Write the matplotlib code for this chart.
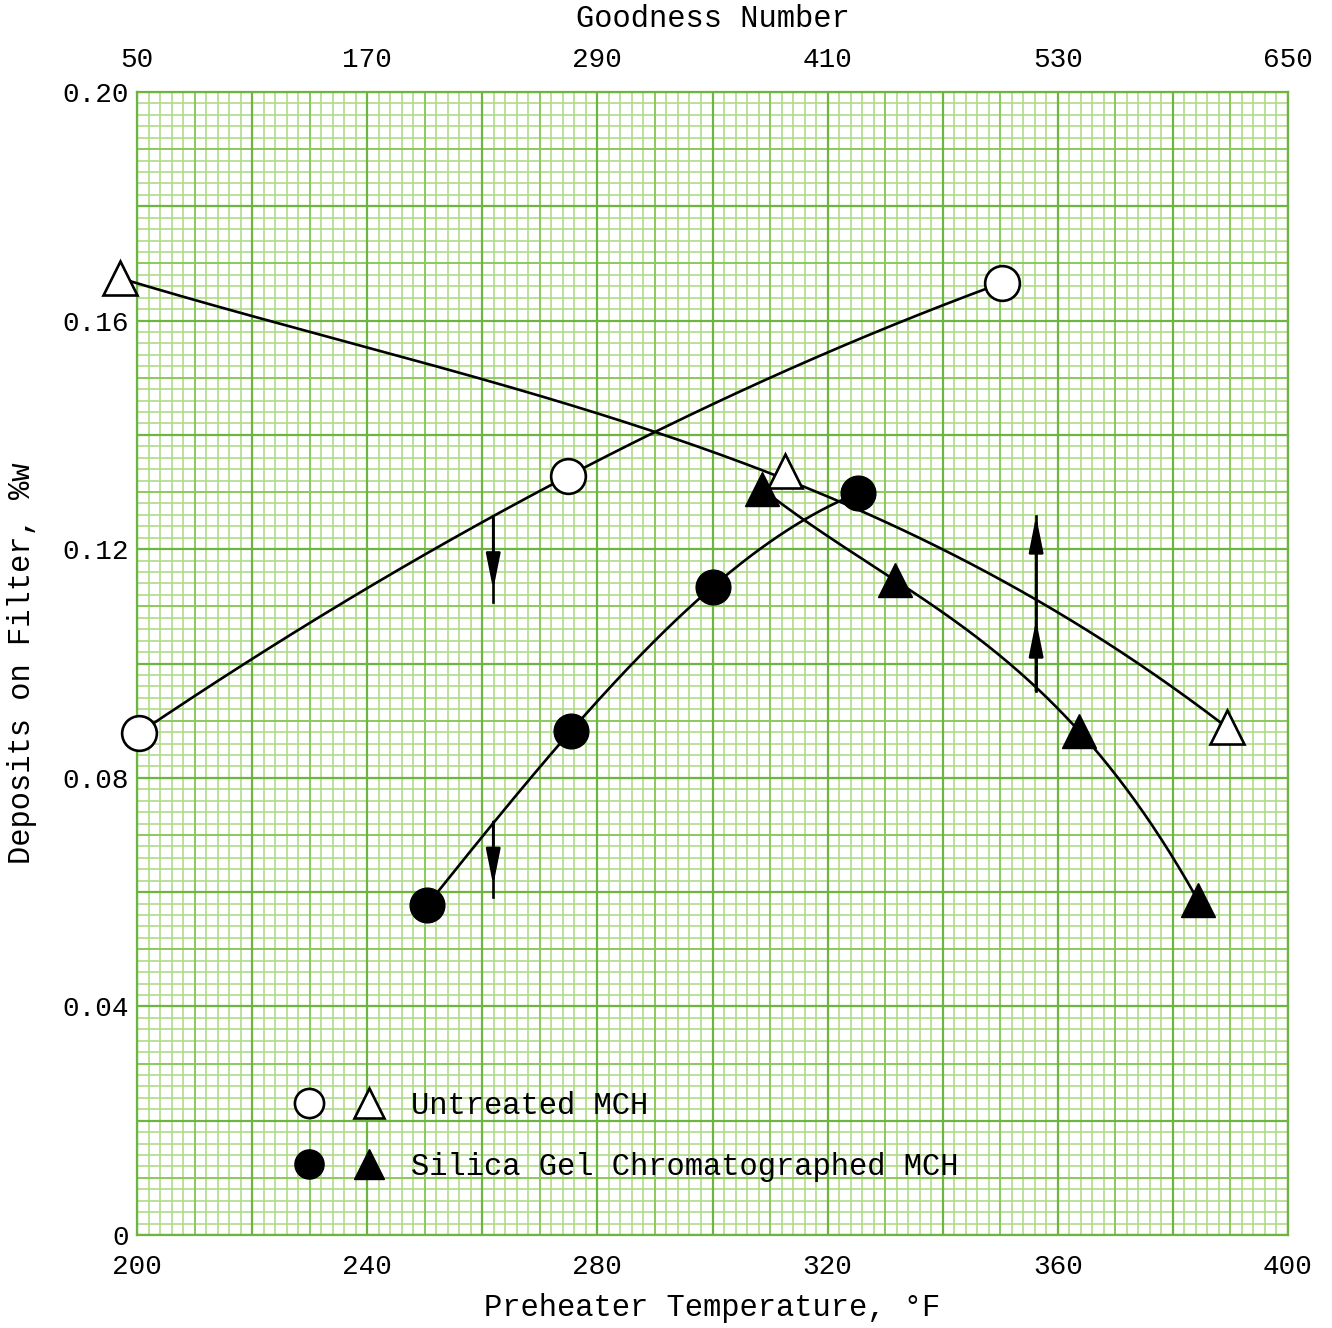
import numpy as np
import matplotlib
matplotlib.use("Agg")
import matplotlib.pyplot as plt
from matplotlib.lines import Line2D
from matplotlib.legend_handler import HandlerTuple

# ---------------- data ----------------
temp_ticks = [200, 240, 280, 320, 360, 400]
goodness_ticks = [50, 170, 290, 410, 530, 650]
deposit_ticks = [0, 0.04, 0.08, 0.12, 0.16, 0.20]
deposit_tick_labels = ["0", "0.04", "0.08", "0.12", "0.16", "0.20"]

# Untreated MCH (open circles) vs preheater temperature
untreated_temp = [200.3, 274.9, 350.3]
untreated_temp_dep = [0.0878, 0.1328, 0.1666]

# Silica gel chromatographed MCH (filled circles) vs preheater temperature
silica_temp = [250.4, 275.4, 300.0, 325.3]
silica_temp_dep = [0.0577, 0.0882, 0.1134, 0.1298]

# Untreated MCH (open triangles) vs goodness number
untreated_gn = [41, 388, 618]
untreated_gn_dep = [0.1675, 0.1337, 0.0889]
# hand-drawn curve through the open triangles
untreated_gn_curve_x = [50, 123, 171.5, 230.4, 289.8, 317.5, 386.8, 518.7, 567.7, 585, 612]
untreated_gn_curve_y = [0.1662, 0.1598, 0.1557, 0.1500, 0.1435, 0.1405, 0.1316,
                        0.1120, 0.1015, 0.0971, 0.0896]

# Silica gel chromatographed MCH (filled triangles) vs goodness number
silica_gn = [376, 445, 541, 603]
silica_gn_dep = [0.1305, 0.1146, 0.0882, 0.0586]

# arrows (temperature axis, pointing down)
down_arrow_temp = [261.9, 261.9]
down_arrow_start = [0.1255, 0.0723]
down_arrow_tip = [0.1129, 0.0612]
down_arrow_end = [0.1108, 0.0591]
# arrows (goodness axis, pointing up)
up_arrow_gn = 518.7
up_arrow_start = 0.0952
up_arrow_tips = [0.1076, 0.1258]

legend_labels = ["Untreated MCH", "Silica Gel Chromatographed MCH"]

# ---------------- style ----------------
plt.rcParams["font.family"] = ["Liberation Mono", "DejaVu Sans Mono"]
FS_TICK = 20
FS_LAB = 22
LW = 1.9
MS = 25

fig = plt.figure(figsize=(13.32, 13.28), dpi=100)
ax = fig.add_axes([137 / 1332, 1 - 1235 / 1328, (1288 - 137) / 1332, (1235 - 92) / 1328])
ax.set_xlim(200, 400)
ax.set_ylim(0, 0.20)

# graph-paper grid
light, mid, heavy = "#b0dc8a", "#8ccb60", "#6db540"
xt = ax.get_xaxis_transform()
yt = ax.get_yaxis_transform()
ax.vlines(np.arange(200, 401, 2), 0, 1, transform=xt, colors=light, lw=1.2, zorder=0)
ax.hlines(np.arange(0, 0.2001, 0.002), 0, 1, transform=yt, colors=light, lw=1.2, zorder=0)
ax.vlines(np.arange(200, 401, 10), 0, 1, transform=xt, colors=mid, lw=1.4, zorder=0.1)
ax.hlines(np.arange(0, 0.2001, 0.01), 0, 1, transform=yt, colors=mid, lw=1.4, zorder=0.1)
ax.vlines(np.arange(200, 401, 20), 0, 1, transform=xt, colors=heavy, lw=1.6, zorder=0.2)
ax.hlines(np.arange(0, 0.2001, 0.02), 0, 1, transform=yt, colors=heavy, lw=1.6, zorder=0.2)
for s in ax.spines.values():
    s.set_color(heavy)
    s.set_linewidth(1.6)

ax.set_xticks(temp_ticks)
ax.set_xticklabels([str(t) for t in temp_ticks])
ax.set_yticks(deposit_ticks)
ax.set_yticklabels(deposit_tick_labels)
ax.tick_params(axis="both", length=0, labelsize=FS_TICK)
ax.tick_params(axis="x", pad=14)
ax.tick_params(axis="y", pad=6)
ax.set_xlabel("Preheater Temperature, °F", fontsize=FS_LAB, labelpad=9)
ax.set_ylabel("Deposits on Filter, %w", fontsize=FS_LAB, labelpad=18)

# temperature-based series
t = np.linspace(min(untreated_temp), max(untreated_temp), 200)
ax.plot(t, np.polyval(np.polyfit(untreated_temp, untreated_temp_dep, 2), t), color="black", lw=LW, zorder=3)
t = np.linspace(min(silica_temp), max(silica_temp), 200)
ax.plot(t, np.polyval(np.polyfit(silica_temp, silica_temp_dep, 3), t), color="black", lw=LW, zorder=3)
ax.plot(untreated_temp, untreated_temp_dep, ls="none", marker="o", ms=MS, mfc="white",
        mec="black", mew=LW, zorder=4, clip_on=False)
ax.plot(silica_temp, silica_temp_dep, ls="none", marker="o", ms=MS, mfc="black",
        mec="black", zorder=4, clip_on=False)

for x, y0, yt_, y1 in zip(down_arrow_temp, down_arrow_start, down_arrow_tip, down_arrow_end):
    ax.plot([x, x], [y0, y1], color="black", lw=LW, zorder=3)
    ax.annotate("", xy=(x, yt_), xytext=(x, y0),
                arrowprops=dict(arrowstyle="-|>,head_length=1.1,head_width=0.22",
                                color="black", lw=LW, shrinkA=0, shrinkB=0,
                                mutation_scale=20), zorder=3)

# goodness-based series on top axis
ax2 = ax.twiny()
ax2.set_xlim(50, 650)
ax2.set_ylim(0, 0.20)
ax2.set_xticks(goodness_ticks)
ax2.set_xticklabels([str(g) for g in goodness_ticks])
ax2.tick_params(axis="x", length=0, labelsize=FS_TICK, pad=14)
ax2.set_xlabel("Goodness Number", fontsize=FS_LAB, labelpad=14)
for s in ax2.spines.values():
    s.set_visible(False)

g = np.linspace(min(untreated_gn), max(untreated_gn), 200)
ax2.plot(g, np.polyval(np.polyfit(untreated_gn_curve_x, untreated_gn_curve_y, 3), g),
         color="black", lw=LW, zorder=3, clip_on=False)
g = np.linspace(min(silica_gn), max(silica_gn), 200)
ax2.plot(g, np.polyval(np.polyfit(silica_gn, silica_gn_dep, 3), g), color="black", lw=LW, zorder=3)
ax2.plot(untreated_gn, untreated_gn_dep, ls="none", marker="^", ms=MS, mfc="white",
         mec="black", mew=LW, zorder=4, clip_on=False)
ax2.plot(silica_gn, silica_gn_dep, ls="none", marker="^", ms=MS, mfc="black",
         mec="black", zorder=4, clip_on=False)

ax2.plot([up_arrow_gn, up_arrow_gn], [up_arrow_start, max(up_arrow_tips)], color="black", lw=LW, zorder=3)
for tip in up_arrow_tips:
    ax2.annotate("", xy=(up_arrow_gn, tip), xytext=(up_arrow_gn, up_arrow_start),
                 arrowprops=dict(arrowstyle="-|>,head_length=1.1,head_width=0.22",
                                 color="black", lw=LW, shrinkA=0, shrinkB=0,
                                 mutation_scale=20), zorder=3)

# legend
lms = 21
h_oc = Line2D([], [], ls="none", marker="o", ms=lms, mfc="white", mec="black", mew=LW)
h_ot = Line2D([], [], ls="none", marker="^", ms=lms, mfc="white", mec="black", mew=LW)
h_fc = Line2D([], [], ls="none", marker="o", ms=lms, mfc="black", mec="black")
h_ft = Line2D([], [], ls="none", marker="^", ms=lms, mfc="black", mec="black")
leg = ax2.legend([(h_oc, h_ot), (h_fc, h_ft)], legend_labels,
                 handler_map={tuple: HandlerTuple(ndivide=None, pad=0.3)},
                 loc="upper left", bbox_to_anchor=(0.1277, 0.126), borderaxespad=0,
                 borderpad=0, frameon=False, fontsize=FS_LAB, handlelength=3.6,
                 handletextpad=0.55, labelspacing=1.02)
leg.set_zorder(5)

fig.savefig("out.png", dpi=100)
